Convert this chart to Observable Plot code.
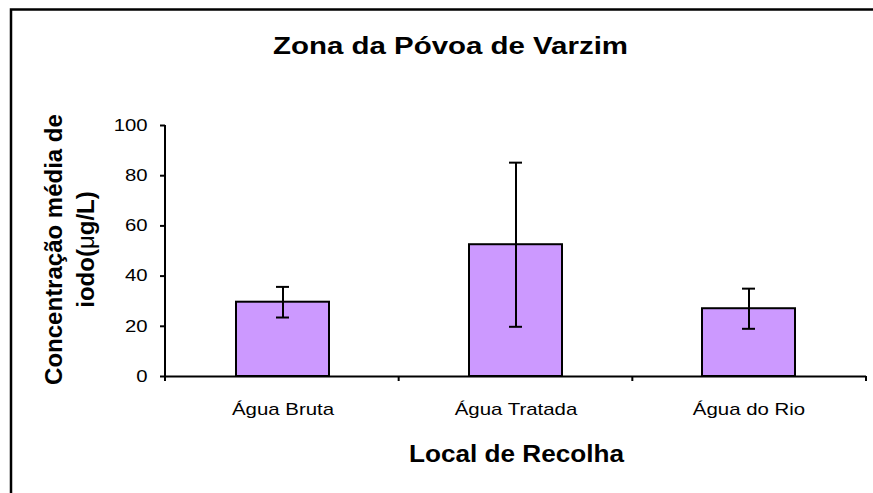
<!DOCTYPE html>
<html><head><meta charset="utf-8">
<script src="https://cdn.jsdelivr.net/npm/d3@7"></script>
<script src="https://cdn.jsdelivr.net/npm/@observablehq/plot@0.6"></script>
<style>
html,body{margin:0;padding:0;background:#fff;overflow:hidden;width:873px;height:493px;}
#wrap{position:absolute;left:0;top:0;width:873px;height:493px;overflow:hidden;}
#wrap svg{display:block;}
</style></head><body><div id="wrap"></div>
<script>
const categories = ["Água Bruta", "Água Tratada", "Água do Rio"];
const means = [29.6, 52.5, 27.0];
const sds = [6.1, 32.7, 8.0];
const yTicks = [0, 20, 40, 60, 80, 100];
const title = "Zona da Póvoa de Varzim";
const xLabel = "Local de Recolha";
const yLabelLines = ["Concentração média de", "iodo(μg/L)"];

const data = categories.map((c, i) => ({cat: c, mean: means[i], lo: means[i] - sds[i], hi: means[i] + sds[i]}));

const W = 873, H = 493;
const FONT = "'Liberation Sans', Arial, Helvetica, sans-serif";
const chart = Plot.plot({
  width: W, height: H,
  marginLeft: 165, marginRight: 7, marginTop: 125, marginBottom: 117,
  style: {fontFamily: FONT, background: "white", color: "black"},
  x: {domain: categories, paddingInner: 0.6, paddingOuter: 0.3, label: null},
  y: {domain: [0, 100], label: null},
  marks: [
    Plot.barY(data, {x: "cat", y: "mean", fill: "#cc99ff", stroke: "black", strokeWidth: 2}),
    Plot.ruleX(data, {x: "cat", y1: "lo", y2: "hi", stroke: "black", strokeWidth: 2}),
    Plot.tickY(data, {x: "cat", y: "lo", stroke: "black", strokeWidth: 2, insetLeft: 40, insetRight: 40}),
    Plot.tickY(data, {x: "cat", y: "hi", stroke: "black", strokeWidth: 2, insetLeft: 40, insetRight: 40}),
    Plot.ruleY([0], {stroke: "black", strokeWidth: 2}),
    Plot.axisY({ticks: yTicks, tickSize: 5, tickPadding: 13, fontSize: 16.5, strokeWidth: 2, label: null, strokeOpacity: 1}),
    Plot.axisX({tickSize: 0, tickPadding: 26, fontSize: 17, label: null})
  ]
});
document.getElementById("wrap").appendChild(chart);

const svg = d3.select(chart);
const sx = chart.scale("x"), sy = chart.scale("y");
const [x0, x1] = sx.range;
const yBase = sy.apply(0), yTop = sy.apply(100);

// left axis line
svg.append("line").attr("x1", x0).attr("x2", x0).attr("y1", yTop).attr("y2", yBase + 5)
  .attr("stroke", "black").attr("stroke-width", 2);
// category boundary ticks
const n = categories.length;
for (let i = 0; i <= n; i++) {
  const xx = x0 + i * (x1 - x0) / n;
  svg.append("line").attr("x1", xx).attr("x2", xx).attr("y1", yBase).attr("y2", yBase + 5)
    .attr("stroke", "black").attr("stroke-width", 2);
}

// stretch tick labels horizontally like reference
function stretch(sel, k) {
  sel.each(function() {
    const L = this.getComputedTextLength();
    this.setAttribute("textLength", L * k);
    this.setAttribute("lengthAdjust", "spacingAndGlyphs");
  });
}
stretch(svg.selectAll('g[aria-label="y-axis tick label"] text'), 1.23);
stretch(svg.selectAll('g[aria-label="x-axis tick label"] text'), 1.2);

// title
svg.append("text").attr("x", 450.5).attr("y", 54).attr("text-anchor", "middle")
  .attr("font-family", FONT).attr("font-weight", "bold").attr("font-size", 24).attr("fill", "black")
  .attr("textLength", 355).attr("lengthAdjust", "spacingAndGlyphs").text(title);

// x label
svg.append("text").attr("x", (x0 + x1) / 2 + 1).attr("y", 462).attr("text-anchor", "middle")
  .attr("font-family", FONT).attr("font-weight", "bold").attr("font-size", 24).attr("fill", "black")
  .attr("textLength", 215).attr("lengthAdjust", "spacingAndGlyphs").text(xLabel);

// y label (two lines rotated); the micro sign is in regular weight as in the reference
const cy = (yTop + yBase) / 2 - 1;
[62, 94].forEach((bx, i) => {
  const t = svg.append("text").attr("transform", `translate(${bx},${cy}) rotate(-90)`).attr("text-anchor", "middle")
    .attr("font-family", FONT).attr("font-weight", "bold").attr("font-size", 24).attr("fill", "black");
  const parts = yLabelLines[i].split("μ");
  parts.forEach((p, j) => {
    if (j > 0) t.append("tspan").attr("font-weight", "normal").text("μ");
    t.append("tspan").text(p);
  });
});

// outer border (only top and left visible in the reference)
svg.append("path").attr("d", `M11,${H + 5}V9.5H${W + 5}`)
  .attr("fill", "none").attr("stroke", "black").attr("stroke-width", 2.5);
</script>
</body></html>
